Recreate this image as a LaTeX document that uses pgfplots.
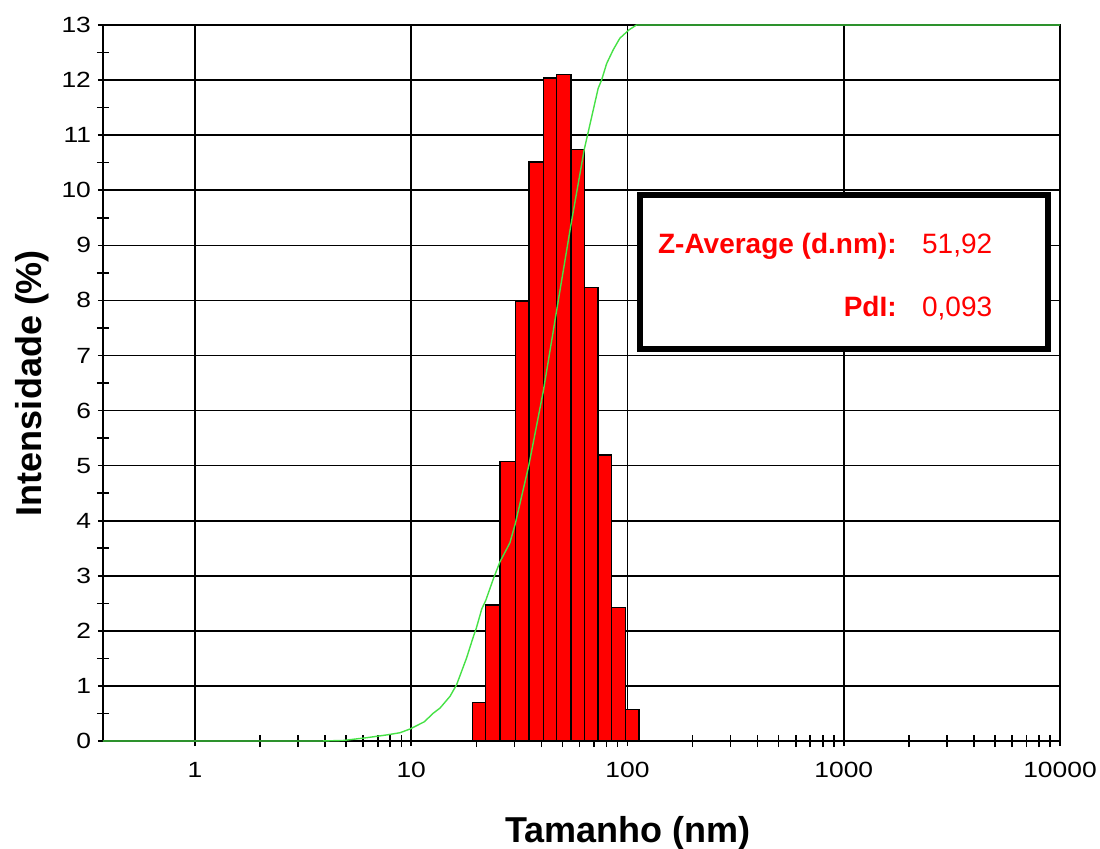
\documentclass[border=0pt]{standalone}
\usepackage{fontspec}
\setmainfont{Liberation Sans}
\newfontfamily\tickfont[FakeStretch=1.2]{Liberation Sans}
\usepackage{pgfplots}
\pgfplotsset{compat=1.18}
\definecolor{curvegreen}{RGB}{70,225,70}
\begin{document}
\begin{tikzpicture}
\begin{axis}[
  scale only axis, width=478.5pt, height=358pt,
  xmode=log, log basis x=10,
  xmin=0.3756, xmax=10000, ymin=0, ymax=13,
  xtick={1,10,100,1000,10000},
  xticklabels={1,10,100,1000,10000},
  minor xtick={2,3,...,9,20,30,...,90,200,300,...,900,2000,3000,...,9000},
  ytick={0,1,...,13},
  minor ytick={0.5,1.5,...,12.5},
  xtick pos=bottom, ytick pos=left,
  /pgf/number format/assume math mode=true,
  grid=major,
  major grid style={black, line width=0.8pt},
  axis line style={black, line width=1pt},
  tick align=center,
  major tick length=5pt, minor tick length=6pt,
  tick style={black, line width=0.8pt},
  xticklabel style={font=\tickfont\fontsize{11}{12}\selectfont, yshift=-4.5pt},
  yticklabel style={font=\tickfont\fontsize{11}{12}\selectfont},
  xlabel={Tamanho (nm)}, ylabel={Intensidade (\%)},
  every axis x label/.style={at={(axis description cs:0.5486,0)}, anchor=base, yshift=-50.5pt, font=\fontsize{18}{20}\selectfont\bfseries},
  every axis y label/.style={at={(axis description cs:-0.0742,0.5)}, rotate=90, anchor=center, font=\fontsize{18}{20}\selectfont\bfseries},
]
\addplot[ybar interval, fill=red, draw=black, line width=0.7pt] coordinates {
(19.23,0.70) (22.08,2.47) (25.7,5.08) (30.3,7.98) (35.0,10.51) (40.8,12.04)
(47.0,12.10) (54.7,10.74) (63.1,8.23) (73.2,5.19) (84.4,2.42) (98.0,0.57) (113.0,0.57)
};
\addplot[curvegreen, line width=0.7pt, mark=none] coordinates {
(0.3756,0) (3.8,0) (4.85,0.01) (6.22,0.06) (7.69,0.11) (8.87,0.15) (9.9,0.22)
(11.5,0.35) (12.6,0.5) (13.6,0.6) (15.1,0.81) (16.2,1.02) (18.0,1.5) (19.4,1.9)
(20.0,2.05) (21.2,2.4) (22.1,2.55) (24.0,2.95) (25.7,3.25) (28.6,3.6) (30.3,3.95)
(35.0,5.01) (40.8,6.35) (47.0,7.81) (54.7,9.36) (63.1,10.74) (73.2,11.85) (75.9,12.0)
(80.1,12.3) (85.9,12.55) (92.2,12.76) (101.5,12.91) (110,13.0) (10000,13.0)
};
\draw[line width=3pt, fill=white] (rel axis cs:0.5611,0.5475) rectangle (rel axis cs:0.9875,0.7626);
\node[anchor=base east, inner sep=0pt, text=red, font=\fontsize{14}{16}\selectfont\bfseries] at (rel axis cs:0.8297,0.6802) {Z-Average (d.nm):};
\node[anchor=base west, inner sep=0pt, text=red, font=\fontsize{14}{16}\selectfont] at (rel axis cs:0.8555,0.6802) {51,92};
\node[anchor=base east, inner sep=0pt, text=red, font=\fontsize{14}{16}\selectfont\bfseries] at (rel axis cs:0.8297,0.5922) {PdI:};
\node[anchor=base west, inner sep=0pt, text=red, font=\fontsize{14}{16}\selectfont] at (rel axis cs:0.8555,0.5922) {0,093};
\coordinate (SW) at (rel axis cs:0,0);
\coordinate (NE) at (rel axis cs:1,1);
\end{axis}
\pgfresetboundingbox
\path[use as bounding box] ([shift={(-51.5pt,-53.5pt)}]SW) rectangle ([shift={(20pt,12.5pt)}]NE);
\end{tikzpicture}
\end{document}
